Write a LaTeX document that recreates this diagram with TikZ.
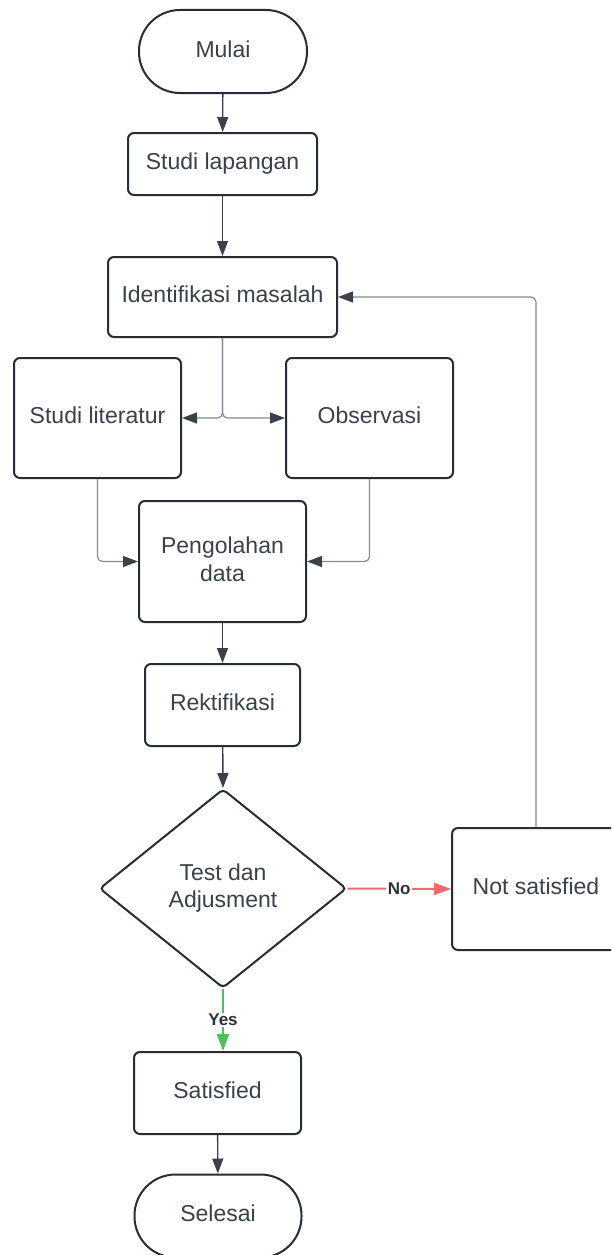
\documentclass[tikz,border=0pt]{standalone}
\usepackage{fontspec}
\setmainfont{Liberation Sans}[Ligatures=NoCommon]
\usetikzlibrary{arrows.meta,shapes.geometric}
\definecolor{txt}{HTML}{3A414A}
\definecolor{bord}{HTML}{282C33}
\definecolor{conn}{HTML}{858A91}
\definecolor{nored}{HTML}{F26B6B}
\definecolor{yesgreen}{HTML}{4CC35A}
\definecolor{labtxt}{HTML}{2E3136}
\begin{document}
\begin{tikzpicture}[x=1pt,y=-1pt,
  box/.style={draw=bord, line width=2pt, rounded corners=6pt, fill=white, text=txt,
    font=\fontsize{23}{28}\selectfont, align=center, inner sep=0pt, text depth=5pt},
  term/.style={box, rounded corners=41pt},
  dec/.style={draw=bord, line width=2pt, diamond, rounded corners=4pt, fill=white, text=txt,
    font=\fontsize{23}{27}\selectfont, align=center, inner sep=0pt},
  arr/.style={draw=txt, line width=1.4pt, -{Triangle[length=15pt,width=11pt]}},
  thinarr/.style={draw=conn, line width=1.2pt, rounded corners=5pt,
    -{Triangle[length=15pt,width=11pt,color=txt]}},
  lab/.style={font=\bfseries\fontsize{17}{20}\selectfont, text=labtxt, fill=white, inner sep=1.5pt}
]
\clip (0,0) rectangle (611,1255);
\fill[white] (0,0) rectangle (611,1255);

\node[term, minimum width=168pt, minimum height=83pt] (mulai) at (223,51.5) {Mulai};
\node[box, minimum width=189pt, minimum height=62pt] (slap) at (222.5,164) {Studi lapangan};
\node[box, minimum width=229pt, minimum height=80pt] (ident) at (222.5,297) {Identifikasi masalah};
\node[box, minimum width=167pt, minimum height=120pt] (lit) at (97.5,418) {Studi literatur};
\node[box, minimum width=167pt, minimum height=120pt] (obs) at (369.5,418) {Observasi};
\node[box, minimum width=167pt, minimum height=121pt] (peng) at (222.5,561.5) {Pengolahan\\data};
\node[box, minimum width=155pt, minimum height=82pt] (rek) at (222.5,705) {Rektifikasi};
\node[dec, minimum width=247pt, minimum height=199pt] (test) at (223,888.5) {Test dan\\Adjusment};
\node[box, minimum width=168pt, minimum height=122pt] (ns) at (536,889) {Not satisfied};
\node[box, minimum width=167pt, minimum height=82pt] (sat) at (217.5,1093) {Satisfied};
\node[term, minimum width=167pt, minimum height=83pt] (sel) at (218,1216) {Selesai};

\draw[arr] (mulai) -- (slap);
\draw[arr] (slap) -- (ident);
\draw[thinarr] (ident.south) |- (lit.east);
\draw[thinarr] (ident.south) |- (obs.west);
\draw[thinarr] (lit.south) |- (peng.west);
\draw[thinarr] (obs.south) |- (peng.east);
\draw[arr] (peng) -- (rek);
\draw[arr] (rek) -- (test.north);
\draw[draw=nored, line width=2pt, -{Triangle[length=17pt,width=12pt]}] (test.east) -- node[lab] {No} (ns.west);
\draw[thinarr] (ns.north) |- (ident.east);
\draw[draw=yesgreen, line width=2.5pt, -{Triangle[length=17pt,width=12pt]}] (test.south) -- node[lab] {Yes} (test.south |- sat.north);
\draw[arr] (sat) -- (sel);
\end{tikzpicture}
\end{document}
